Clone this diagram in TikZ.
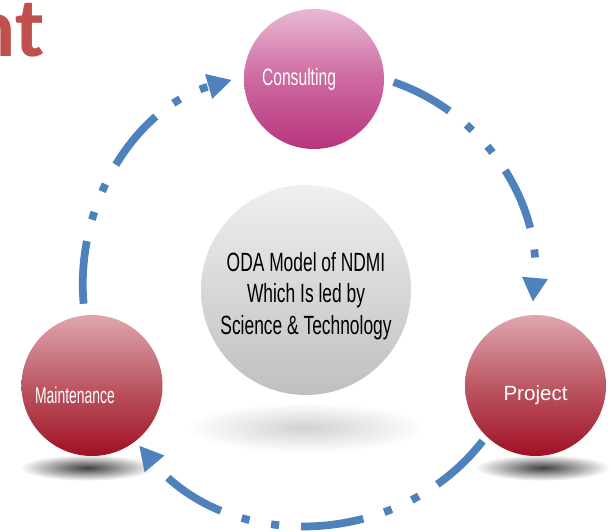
\documentclass[tikz,border=0pt]{standalone}
\usepackage{fontspec}
\usetikzlibrary{positioning, arrows.meta, backgrounds}
\setmainfont{Liberation Sans}
\newfontfamily\condfont[FakeStretch=0.66]{Liberation Sans}
\newfontfamily\maintfont[FakeStretch=0.61]{Liberation Sans}
\newfontfamily\titlefont{Carlito}

\definecolor{titlecolor}{RGB}{192,80,77}
\definecolor{flowcolor}{RGB}{79,129,189}
\definecolor{pinktop}{RGB}{232,184,212}
\definecolor{pinkmid}{RGB}{205,105,160}
\definecolor{pinkbottom}{RGB}{184,52,126}
\definecolor{redtop}{RGB}{224,166,174}
\definecolor{redmid}{RGB}{188,88,100}
\definecolor{redbottom}{RGB}{160,16,36}

\begin{document}
\begin{tikzpicture}[on grid, thick,
    main/.style = {circle, inner sep=0pt, minimum size=2.82cm},
    pink/.style = {main, top color=pinktop, bottom color=pinkbottom, middle color=pinkmid},
    red/.style = {main, top color=redtop, bottom color=redbottom, middle color=redmid},
    caption/.style = {text=white, font=\condfont\fontsize{13.5}{16}\selectfont},
    flow/.style = {flowcolor, line width=4.4pt,
        dash pattern=on 35.8pt off 12.5pt on 4.6pt off 12.5pt on 4.6pt off 12.5pt,
        -{Triangle[length=13.7pt, width=13.7pt]}},
    floorshade/.style = {shading=radial, inner color=black!75, outer color=white}]
    \useasboundingbox (0,0) rectangle (12.22,10.62);

    \node[anchor=base east, inner sep=0pt, text=titlecolor,
        font=\titlefont\bfseries\fontsize{48}{48}\selectfont] (Title) at (0.9,9.48) {nt};

    \node[main, minimum size=4.2cm, top color=black!6, bottom color=black!25,
        label={[yshift=-0.12cm, align=center, font=\condfont\fontsize{15}{17.9}\selectfont]center:{ODA Model of NDMI\\Which Is led by\\Science \& Technology}}] (ODA) at (6.12,4.82) {};
    \node[pink, minimum size=2.8cm,
        label={[caption, xshift=-0.3cm]center:Consulting}] (Consulting) [above right=4.22cm and 0.16cm of ODA] {};
    \node[red,
        label={[caption, font=\maintfont\fontsize{13}{16}\selectfont, xshift=-0.34cm, yshift=-0.19cm]center:Maintenance}] (Maintenance) [below left=1.91cm and 4.28cm of ODA] {};
    \node[red,
        label={[caption, font=\fontsize{11.7}{14}\selectfont, yshift=-0.2cm]center:Project}] (Project) [below right=1.91cm and 4.59cm of ODA] {};

    \begin{scope}[on background layer]
        \fill[white] (0,0) rectangle (12.22,10.62);
        \shade[floorshade, inner color=black!18] ([yshift=-0.64cm]ODA.south) ellipse [x radius=2.4cm, y radius=0.5cm];
        \shade[floorshade] ([xshift=-0.1cm, yshift=-0.22cm]Maintenance.south) ellipse [x radius=1.35cm, y radius=0.26cm];
        \shade[floorshade] ([xshift=0.14cm, yshift=-0.22cm]Project.south) ellipse [x radius=1.35cm, y radius=0.26cm];
    \end{scope}

    \draw[flow, shorten <=0.22cm, shorten >=0.24cm] (Maintenance.96) to[out=95, in=196] (Consulting.178);
    \draw[flow, shorten <=0.19cm, shorten >=0.25cm] (Consulting.0) to[out=-19, in=85] (Project.93);
    \draw[flow, shorten <=0.11cm, shorten >=0.1cm, looseness=1.05] (Project.226) to[out=232, in=310] (Maintenance.308);
\end{tikzpicture}
\end{document}
